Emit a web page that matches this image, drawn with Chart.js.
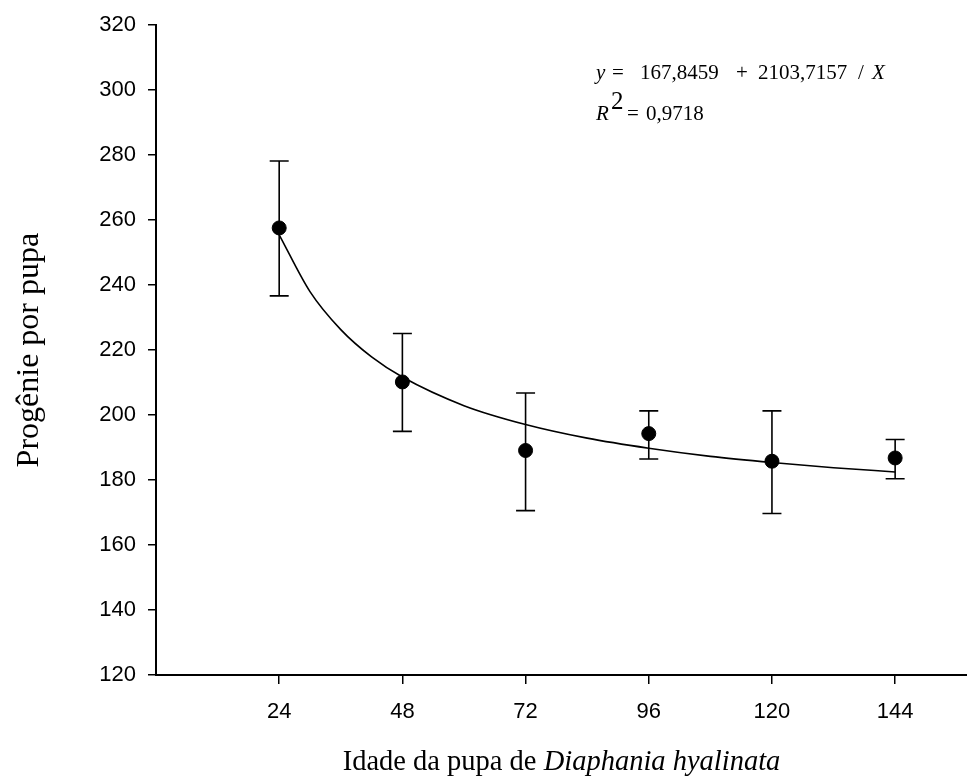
<!DOCTYPE html>
<html>
<head>
<meta charset="utf-8">
<script src="https://cdn.jsdelivr.net/npm/chart.js@4.4.0/dist/chart.umd.min.js"></script>
<style>
  body { margin: 0; background: #fff; overflow: hidden; }
  #wrap { width: 967px; height: 778px; }
</style>
</head>
<body>
<div id="wrap"><canvas id="c"></canvas></div>
<script>
// pupa age (h) and progeny per pupa
const ages = [24, 48, 72, 96, 120, 144];
const progeny = [257.6, 210.2, 189.1, 194.3, 185.8, 186.8];
const errTop = [278.2, 225.1, 206.8, 201.3, 201.3, 192.5];
const errBottom = [236.7, 195.0, 170.6, 186.5, 169.7, 180.4];

// fitted curve as it is drawn
const fitX = [24, 30, 36, 42, 48, 60, 72, 84, 96, 108, 120, 132, 144];
const fitY = [255.5, 238.0, 226.3, 217.9, 211.7, 202.9, 197.1, 192.9, 189.8, 187.3, 185.4, 183.8, 182.5];

const xTicks = [24, 48, 72, 96, 120, 144];

const serif = '"Liberation Serif", "Times New Roman", serif';
const sans = '"Liberation Sans", Arial, sans-serif';

const errorBars = {
  id: 'errorBars',
  beforeDatasetsDraw(chart) {
    const { ctx, scales: { x, y } } = chart;
    ctx.save();
    ctx.strokeStyle = '#000';
    ctx.lineWidth = 1.6;
    ages.forEach((a, i) => {
      const px = x.getPixelForValue(a);
      const top = y.getPixelForValue(errTop[i]);
      const bot = y.getPixelForValue(errBottom[i]);
      ctx.beginPath();
      ctx.moveTo(px, top); ctx.lineTo(px, bot);
      ctx.moveTo(px - 9.5, top); ctx.lineTo(px + 9.5, top);
      ctx.moveTo(px - 9.5, bot); ctx.lineTo(px + 9.5, bot);
      ctx.stroke();
    });
    ctx.restore();
  }
};

function drawParts(ctx, x, y, parts) {
  parts.forEach(p => {
    ctx.font = p[1];
    ctx.fillText(p[0], x, y + (p[2] || 0));
    x += ctx.measureText(p[0]).width;
  });
}

const labels = {
  id: 'labels',
  afterDraw(chart) {
    const { ctx, chartArea } = chart;
    ctx.save();
    ctx.fillStyle = '#000';
    ctx.textBaseline = 'alphabetic';

    // y title
    ctx.save();
    ctx.translate(38, (chartArea.top + chartArea.bottom) / 2);
    ctx.rotate(-Math.PI / 2);
    ctx.textAlign = 'center';
    ctx.font = '32px ' + serif;
    ctx.fillText('Progênie por pupa', 0, 0);
    ctx.restore();

    // x title
    const t1 = 'Idade da pupa de ';
    const t2 = 'Diaphania hyalinata';
    ctx.font = '28.5px ' + serif;
    const w1 = ctx.measureText(t1).width;
    ctx.font = 'italic 28.5px ' + serif;
    const w2 = ctx.measureText(t2).width;
    const cx = (chartArea.left + chartArea.right) / 2;
    drawParts(ctx, cx - (w1 + w2) / 2, 770, [
      [t1, '28.5px ' + serif],
      [t2, 'italic 28.5px ' + serif]
    ]);

    // equation, pieces placed as in the figure
    const n = '21px ' + serif, it = 'italic 21px ' + serif;
    [['y', it, 596], ['=', n, 612], ['167,8459', n, 640], ['+', n, 736],
     ['2103,7157', n, 758], ['/', n, 858], ['X', it, 872]].forEach(p => {
      ctx.font = p[1];
      ctx.fillText(p[0], p[2], 79);
    });
    [['R', it, 596, 120], ['2', '25px ' + serif, 611, 109], ['=', n, 627, 120],
     ['0,9718', n, 646, 120]].forEach(p => {
      ctx.font = p[1];
      ctx.fillText(p[0], p[2], p[3]);
    });
    ctx.restore();
  }
};

new Chart(document.getElementById('c'), {
  data: {
    datasets: [
      {
        type: 'line',
        data: fitX.map((v, i) => ({ x: v, y: fitY[i] })),
        borderColor: '#000',
        borderWidth: 1.6,
        pointRadius: 0,
        cubicInterpolationMode: 'monotone',
        fill: false
      },
      {
        type: 'scatter',
        data: ages.map((v, i) => ({ x: v, y: progeny[i] })),
        backgroundColor: '#000',
        borderColor: '#000',
        pointRadius: 7,
        pointHoverRadius: 7
      }
    ]
  },
  options: {
    responsive: true,
    maintainAspectRatio: false,
    animation: false,
    events: [],
    layout: { autoPadding: false, padding: { top: 21, left: 0, right: 0, bottom: 0 } },
    plugins: { legend: { display: false }, tooltip: { enabled: false } },
    scales: {
      x: {
        type: 'linear',
        min: 0,
        max: 158,
        afterBuildTicks: s => { s.ticks = xTicks.map(v => ({ value: v })); },
        afterFit: s => { s.height = 103; s.paddingLeft = 0; s.paddingRight = 0; },
        grid: { drawOnChartArea: false, drawTicks: true, tickLength: 9, color: '#000', lineWidth: 1.5 },
        border: { color: '#000', width: 2 },
        ticks: { color: '#000', padding: 15, font: { family: sans, size: 22 } }
      },
      y: {
        min: 120,
        max: 320,
        ticks: { stepSize: 20, color: '#000', padding: 12, font: { family: sans, size: 22 } },
        afterFit: s => { s.width = 156; },
        grid: { drawOnChartArea: false, drawTicks: true, tickLength: 8, color: '#000', lineWidth: 1.5 },
        border: { color: '#000', width: 2 }
      }
    }
  },
  plugins: [errorBars, labels]
});
</script>
</body>
</html>
